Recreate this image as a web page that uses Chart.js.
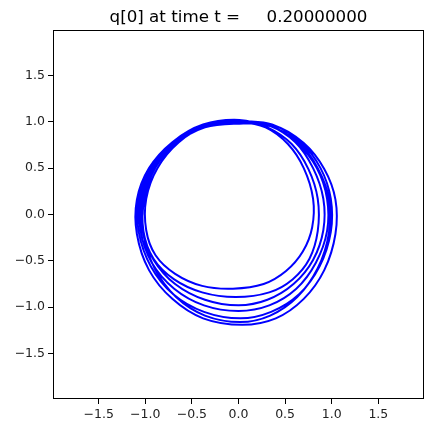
<!DOCTYPE html>
<html>
<head>
<meta charset="utf-8">
<script src="https://cdn.jsdelivr.net/npm/chart.js@4/dist/chart.umd.min.js"></script>
<style>
  html, body { margin: 0; padding: 0; background: #fff; }
  #wrap { width: 433px; height: 433px; }
</style>
</head>
<body>
<div id="wrap"><canvas id="myChart"></canvas></div>
<script>
var loop1X = [0.00, -0.34, -0.64, -0.87, -0.99, -0.99, -0.89, -0.68, -0.39, -0.06, 0.27, 0.51, 0.69, 0.79, 0.80, 0.70, 0.53, 0.29];
var loop1Y = [1.00, 0.96, 0.78, 0.50, 0.17, -0.17, -0.44, -0.64, -0.77, -0.80, -0.75, -0.61, -0.40, -0.14, 0.17, 0.50, 0.76, 0.94];
var loop2X = [0.03, -0.37, -0.69, -0.93, -1.05, -1.05, -0.93, -0.69, -0.37, 0.00, 0.33, 0.62, 0.83, 0.95, 0.95, 0.84, 0.63, 0.35];
var loop2Y = [0.99, 0.95, 0.77, 0.49, 0.16, -0.18, -0.52, -0.80, -0.98, -1.04, -0.98, -0.80, -0.52, -0.18, 0.17, 0.50, 0.77, 0.95];
var loop3X = [-0.03, -0.35, -0.66, -0.89, -1.01, -1.02, -0.91, -0.69, -0.39, -0.03, 0.33, 0.58, 0.76, 0.85, 0.85, 0.75, 0.57, 0.31];
var loop3Y = [1.01, 0.97, 0.78, 0.51, 0.17, -0.18, -0.48, -0.70, -0.84, -0.89, -0.84, -0.70, -0.48, -0.18, 0.17, 0.49, 0.76, 0.94];
var loop4X = [0.01, -0.38, -0.71, -0.96, -1.09, -1.09, -0.96, -0.71, -0.38, 0.04, 0.40, 0.70, 0.92, 1.04, 1.04, 0.92, 0.70, 0.38];
var loop4Y = [1.02, 0.97, 0.78, 0.50, 0.16, -0.21, -0.60, -0.91, -1.12, -1.19, -1.12, -0.91, -0.60, -0.21, 0.16, 0.49, 0.77, 0.96];
var loop5X = [-0.02, -0.36, -0.68, -0.91, -1.03, -1.03, -0.91, -0.68, -0.36, 0.00, 0.31, 0.59, 0.80, 0.91, 0.91, 0.80, 0.61, 0.33];
var loop5Y = [0.98, 0.94, 0.76, 0.49, 0.17, -0.17, -0.49, -0.75, -0.92, -0.98, -0.92, -0.75, -0.49, -0.17, 0.17, 0.50, 0.78, 0.96];
var loop6X = [0.04, -0.36, -0.67, -0.90, -1.02, -1.02, -0.90, -0.67, -0.36, 0.02, 0.34, 0.63, 0.85, 0.97, 0.97, 0.85, 0.65, 0.35];
var loop6Y = [1.00, 0.96, 0.77, 0.50, 0.18, -0.20, -0.58, -0.89, -1.09, -1.16, -1.09, -0.89, -0.58, -0.20, 0.17, 0.50, 0.77, 0.95];
var loop7X = [-0.01, -0.37, -0.70, -0.94, -1.07, -1.07, -0.94, -0.70, -0.37, 0.02, 0.35, 0.65, 0.87, 0.99, 0.99, 0.88, 0.67, 0.36, 0.02];
var loop7Y = [0.99, 0.95, 0.77, 0.50, 0.17, -0.19, -0.56, -0.86, -1.05, -1.12, -1.05, -0.86, -0.56, -0.19, 0.17, 0.50, 0.78, 0.97, 1.01];

var tickVals = [-1.5, -1.0, -0.5, 0.0, 0.5, 1.0, 1.5];
var axisMin = -1.99, axisMax = 1.99;
var titleText = 'q[0] at time t =     0.20000000';

var allX = [].concat(loop1X, loop2X, loop3X, loop4X, loop5X, loop6X, loop7X);
var allY = [].concat(loop1Y, loop2Y, loop3Y, loop4Y, loop5Y, loop6Y, loop7Y);
var points = allX.map(function(x, i) { return {x: x, y: allY[i]}; });

// axes box on all four sides, title centred over the plot area
var frame = {
    id: 'frame',
    afterDraw: function(chart) {
        var a = chart.chartArea, c = chart.ctx;
        c.save();
        c.strokeStyle = '#000';
        c.lineWidth = 1;
        c.strokeRect(a.left + 0.5, a.top + 0.5, a.right - a.left - 1, a.bottom - a.top - 1);
        c.fillStyle = '#000';
        c.font = '16.7px "DejaVu Sans"';
        c.textAlign = 'center';
        c.textBaseline = 'alphabetic';
        c.fillText(titleText, (a.left + a.right) / 2, 22);
        c.restore();
    }
};

function fmt(v) {
    return v.toFixed(1).replace('-', '\u2212');
}

function axis(pos, size) {
    return {
        type: 'linear',
        position: pos,
        min: axisMin,
        max: axisMax,
        afterBuildTicks: function(scale) {
            scale.ticks = tickVals.map(function(v) { return {value: v}; });
        },
        afterFit: function(scale) {
            if (pos === 'left') scale.width = size; else scale.height = size;
        },
        border: { display: false },
        grid: { drawOnChartArea: false, drawTicks: true, tickLength: 5, color: '#000', tickWidth: 1 },
        ticks: {
            color: '#222',
            padding: 3,
            maxRotation: 0,
            font: { family: 'DejaVu Sans', size: 12.5 },
            callback: function(v) { return fmt(v); }
        }
    };
}

var ctx = document.getElementById('myChart').getContext('2d');
var myChart = new Chart(ctx, {
    type: 'scatter',
    data: {
        datasets: [{
            data: points,
            showLine: true,
            borderColor: '#0000ff',
            backgroundColor: '#0000ff',
            borderWidth: 2,
            pointRadius: 0,
            tension: 0.35
        }]
    },
    options: {
        responsive: true,
        maintainAspectRatio: false,
        animation: false,
        layout: { padding: { left: 0, right: 9, top: 30, bottom: 0 } },
        plugins: {
            legend: { display: false },
            tooltip: { enabled: false },
            title: { display: false }
        },
        scales: {
            x: axis('bottom', 34),
            y: axis('left', 53)
        }
    },
    plugins: [frame]
});
</script>
</body>
</html>
